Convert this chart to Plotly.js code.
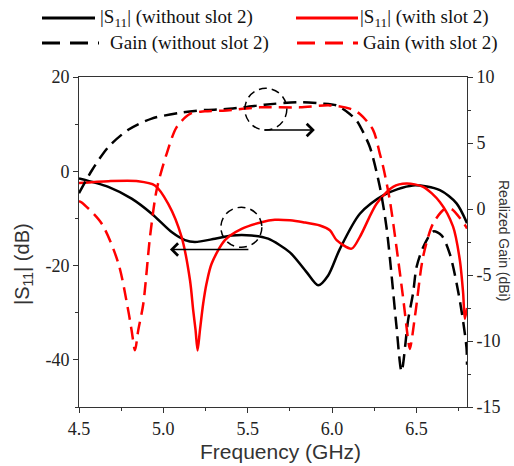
<!DOCTYPE html>
<html><head><meta charset="utf-8">
<script src="https://cdn.plot.ly/plotly-3.0.1.min.js"></script>
<style>html,body{margin:0;padding:0;background:#fff}#chart{width:514px;height:466px}</style>
</head><body><div id="chart"></div>
<script>
// ---------- data ----------
const seriesNames = ['|S<sub>11</sub>| (without slot 2)', '|S<sub>11</sub>| (with slot 2)', 'Gain (without slot 2)', 'Gain (with slot 2)'];

const freqS11Without = [4.50,4.674,4.812,4.931,5.049,5.128,5.187,5.306,5.405,5.523,5.621,5.75,5.849,5.918,5.977,6.046,6.165,6.303,6.479,6.639,6.738,6.80];
const s11Without     = [-1.5,-3.3,-5.8,-9.0,-12.9,-14.6,-15.0,-14.3,-13.6,-13.6,-14.3,-17.2,-21.4,-24.2,-22.1,-16.5,-9.0,-5.1,-3.0,-4.0,-6.8,-11.0];

const freqS11With = [4.50,4.674,4.851,4.95,5.029,5.108,5.158,5.177,5.191,5.203,5.217,5.236,5.256,5.286,5.365,5.464,5.582,5.661,5.75,5.829,5.928,5.987,6.027,6.116,6.165,6.264,6.362,6.441,6.540,6.639,6.717,6.757,6.777,6.787,6.80];
const s11With     = [-2.5,-2.1,-2.1,-3.0,-6.9,-13.9,-23.1,-29.5,-33.7,-38.0,-33.7,-28.1,-23.8,-19.6,-14.6,-12.2,-10.8,-10.3,-10.4,-10.8,-11.5,-12.5,-14.6,-16.4,-13.9,-6.9,-3.3,-2.6,-3.3,-6.5,-11.7,-18.7,-25.8,-31.3,-29.0];

const freqGainWithout = [4.50,4.575,4.674,4.792,4.931,5.108,5.246,5.353,5.472,5.60,5.809,5.928,6.027,6.105,6.145,6.165,6.224,6.283,6.323,6.352,6.382,6.412,6.451,6.480,6.501,6.540,6.60,6.649,6.698,6.757,6.797,6.80];
const gainWithout     = [1.2,2.9,4.7,6.0,6.85,7.3,7.5,7.55,7.7,7.9,8.1,8.0,7.85,7.2,6.7,6.3,4.7,1.7,-1.4,-4.9,-8.9,-12.3,-8.4,-6.4,-4.4,-2.9,-1.7,-2.0,-3.4,-6.9,-10.5,-11.8];

const freqGainWith = [4.50,4.516,4.634,4.733,4.792,4.812,4.832,4.851,4.881,4.921,4.961,5.02,5.079,5.158,5.246,5.353,5.572,5.809,5.987,6.105,6.165,6.243,6.283,6.303,6.342,6.382,6.421,6.451,6.461,6.495,6.540,6.599,6.668,6.708,6.797,6.80];
const gainWith     = [0.6,0.5,-1.1,-4.1,-7.7,-9.2,-10.7,-9.2,-7.2,-2.1,1.5,4.2,6.2,7.2,7.4,7.45,7.7,7.7,7.85,7.6,7.2,6.0,4.2,3.2,0.7,-2.9,-6.7,-9.9,-10.6,-7.8,-3.6,-1.1,0.0,0.0,-1.4,-1.5];

const xTickVals = [4.5,5.0,5.5,6.0,6.5];
const xTickText = ['4.5','5.0','5.5','6.0','6.5'];
const yTickVals = [-40,-20,0,20];
const yTickText = ['-40','-20','0','20'];
const y2TickVals = [-15,-10,-5,0,5,10];
const y2TickText = ['-15','-10','-5','0','5','10'];

// ---------- styling ----------
const BLACK = '#000000', RED = '#ff0000', AX = '#333333';
const DASH = '13px,7px';
const serif = 'Liberation Serif';
const sans = 'Liberation Sans';

function mk(x, y, name, color, dash, axis) {
  return {x: x, y: y, name: name, yaxis: axis, type: 'scatter', mode: 'lines', showlegend: false,
    line: {color: color, width: 2.5, dash: dash, shape: 'spline', smoothing: 0.8}, hoverinfo: 'skip'};
}
const traces = [
  mk(freqGainWithout, gainWithout, seriesNames[2], BLACK, DASH, 'y2'),
  mk(freqGainWith, gainWith, seriesNames[3], RED, DASH, 'y2'),
  mk(freqS11Without, s11Without, seriesNames[0], BLACK, 'solid', 'y'),
  mk(freqS11With, s11With, seriesNames[1], RED, 'solid', 'y')
];

const L = 79, R = 47, T = 77, B = 59, W = 514, H = 466;
const PW = W - L - R, PH = H - T - B;
const px = v => (v - L) / PW;
const py = v => (H - B - v) / PH;

// manual legend (2 x 2), built from series names / colours
const legendItems = [
  {i: 2, c: BLACK, d: '18px,10px', x0: 42, x1: 99, tx: 108, y: 43},
  {i: 3, c: RED, d: '18px,10px', x0: 297, x1: 358, tx: 361, y: 43},
  {i: 0, c: BLACK, d: 'solid', x0: 42, x1: 95, tx: 98, y: 18},
  {i: 1, c: RED, d: 'solid', x0: 296, x1: 358, tx: 358, y: 18}
];
const shapes = [], annotations = [];
legendItems.forEach(it => {
  shapes.push({type: 'line', xref: 'paper', yref: 'paper', x0: px(it.x0), x1: px(it.x1), y0: py(it.y), y1: py(it.y),
    line: {color: it.c, width: 3, dash: it.d}});
  annotations.push({xref: 'paper', yref: 'paper', x: px(it.tx), y: py(it.y), xanchor: 'left', yanchor: 'middle',
    text: seriesNames[it.i], showarrow: false, font: {family: serif, size: 19, color: '#111'}});
});

// dashed circles and arrows
shapes.push({type: 'circle', xref: 'x', yref: 'y2', x0: 5.483, x1: 5.732, y0: 5.98, y1: 9.14,
  line: {color: BLACK, width: 1.5, dash: '8px,5px'}});
shapes.push({type: 'circle', xref: 'x', yref: 'y', x0: 5.341, x1: 5.584, y0: -16.13, y1: -7.64,
  line: {color: BLACK, width: 1.5, dash: '8px,5px'}});
annotations.push({xref: 'x', yref: 'y2', axref: 'x', ayref: 'y2', x: 5.898, y: 5.98, ax: 5.59, ay: 5.98,
  text: '', showarrow: true, arrowhead: 4, arrowsize: 1.6, arrowwidth: 1.5, arrowcolor: BLACK});
annotations.push({xref: 'x', yref: 'y', axref: 'x', ayref: 'y', x: 5.039, y: -16.6, ax: 5.513, ay: -16.6,
  text: '', showarrow: true, arrowhead: 4, arrowsize: 1.6, arrowwidth: 1.5, arrowcolor: BLACK});

// axis titles
annotations.push({xref: 'paper', yref: 'paper', x: px(280), y: py(451), xanchor: 'center', yanchor: 'middle',
  text: 'Frequency (GHz)', showarrow: false, font: {family: sans, size: 21, color: AX}});
annotations.push({xref: 'paper', yref: 'paper', x: px(23), y: py(264), xanchor: 'center', yanchor: 'middle',
  text: '|S<sub>11</sub>| (dB)', textangle: -90, showarrow: false, font: {family: sans, size: 20, color: AX}});
annotations.push({xref: 'paper', yref: 'paper', x: px(504), y: py(240), xanchor: 'center', yanchor: 'middle',
  text: 'Realized Gain (dBi)', textangle: 90, showarrow: false, font: {family: sans, size: 14, color: AX}});

const tf = () => ({family: serif, size: 18, color: '#222'});
const layout = {
  width: W, height: H, margin: {l: L, r: R, t: T, b: B, pad: 0},
  paper_bgcolor: '#fff', plot_bgcolor: '#fff', showlegend: false,
  xaxis: {range: [4.5, 6.8], tickvals: xTickVals, ticktext: xTickText, ticks: 'outside', ticklen: 5, tickwidth: 1,
    tickcolor: AX, showline: true, linecolor: AX, linewidth: 1, mirror: true, showgrid: false, zeroline: false,
    tickfont: tf(), minor: {dtick: 0.25, tick0: 4.5, ticks: 'outside', ticklen: 3, tickcolor: AX, showgrid: false}},
  yaxis: {range: [-50, 20], tickvals: yTickVals, ticktext: yTickText, ticks: 'outside', ticklen: 5, tickwidth: 1,
    tickcolor: AX, showline: true, linecolor: AX, linewidth: 1, showgrid: false, zeroline: false,
    tickfont: tf(), minor: {dtick: 10, tick0: 0, ticks: 'outside', ticklen: 3, tickcolor: AX, showgrid: false}},
  yaxis2: {range: [-15, 10], overlaying: 'y', side: 'right', tickvals: y2TickVals, ticktext: y2TickText,
    ticks: 'outside', ticklen: 5, tickwidth: 1, tickcolor: AX, showline: true, linecolor: AX, linewidth: 1,
    showgrid: false, zeroline: false, tickfont: tf(),
    minor: {dtick: 2.5, tick0: 0, ticks: 'outside', ticklen: 3, tickcolor: AX, showgrid: false}},
  shapes: shapes, annotations: annotations
};
Plotly.newPlot('chart', traces, layout, {staticPlot: true, displayModeBar: false});
</script></body></html>
